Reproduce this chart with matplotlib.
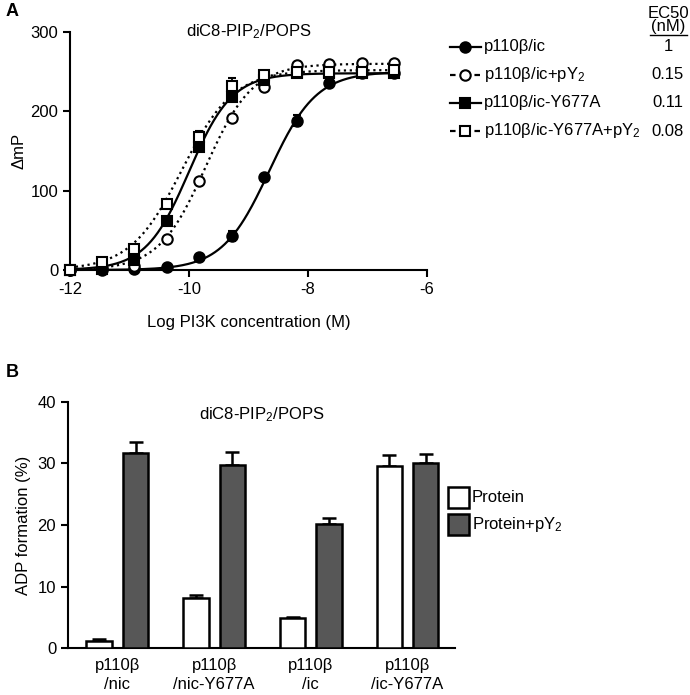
import numpy as np
import matplotlib
matplotlib.use("Agg")
import matplotlib.pyplot as plt
from matplotlib.lines import Line2D
from matplotlib.patches import Rectangle

plt.rcParams['font.family'] = ['Liberation Sans', 'DejaVu Sans']
plt.rcParams['mathtext.fontset'] = 'custom'
plt.rcParams['mathtext.rm'] = 'Liberation Sans'
plt.rcParams['mathtext.it'] = 'Liberation Sans'
plt.rcParams['axes.unicode_minus'] = False

# ---- panel A data: dose response ----
log_conc = [-12.0, -11.46, -10.92, -10.37, -9.83, -9.28, -8.74, -8.19, -7.65, -7.10, -6.56]

ic = [0, 0, 1, 4, 16, 43, 117, 188, 236, 248, 248]
ic_err = [2, 2, 2, 2, 3, 6, 3, 7, 3, 3, 3]
ic_py2 = [0, 2, 5, 39, 112, 191, 231, 258, 260, 261, 261]
ic_py2_err = [2, 2, 2, 3, 3, 3, 3, 3, 3, 3, 3]
y677a = [0, 1, 12, 62, 155, 218, 240, 248, 248, 248, 248]
y677a_err = [2, 2, 2, 3, 4, 3, 3, 3, 3, 3, 3]
y677a_py2 = [0, 10, 27, 83, 168, 232, 246, 250, 250, 250, 252]
y677a_py2_err = [2, 2, 2, 3, 7, 10, 3, 3, 3, 3, 3]

series_labels = ["p110β/ic", "p110β/ic+pY$_2$", "p110β/ic-Y677A", "p110β/ic-Y677A+pY$_2$"]
ec50_labels = ["1", "0.15", "0.11", "0.08"]

# sigmoidal fit parameters (top, log EC50, hill slope)
fit_top = [250, 260, 248, 252]
fit_logec50 = [-8.65, -9.72, -10.0, -10.12]
fit_hill = [1.1, 1.1, 1.2, 1.0]

# ---- panel B data: ADP formation ----
groups = ["p110β\n/nic", "p110β\n/nic-Y677A", "p110β\n/ic", "p110β\n/ic-Y677A"]
protein = [1.2, 8.2, 4.9, 29.6]
protein_err = [0.35, 0.4, 0.2, 1.8]
protein_py2 = [31.7, 29.8, 20.1, 30.1]
protein_py2_err = [1.8, 2.0, 1.1, 1.4]

FS = 12
W, H = 690, 695
fig = plt.figure(figsize=(W / 100, H / 100), dpi=100)


def fx(x):
    return x / W


def fy(y):
    return 1 - y / H


# ================= panel A =================
axA = fig.add_axes([fx(70), fy(270), fx(427 - 70), (270 - 32) / H])
styles = [
    dict(marker='o', mfc='black', ls='-'),
    dict(marker='o', mfc='white', ls=':'),
    dict(marker='s', mfc='black', ls='-'),
    dict(marker='s', mfc='white', ls=':'),
]
data = [ic, ic_py2, y677a, y677a_py2]
errs = [ic_err, ic_py2_err, y677a_err, y677a_py2_err]
xs = np.linspace(log_conc[0], log_conc[-1], 300)
for i in range(4):
    curve = fit_top[i] / (1 + 10 ** (fit_hill[i] * (fit_logec50[i] - xs)))
    axA.plot(xs, curve, color='black', lw=1.6, ls=styles[i]['ls'], clip_on=False, zorder=2)
for i in range(4):
    axA.errorbar(log_conc, data[i], yerr=errs[i], fmt=styles[i]['marker'], ms=7.5,
                 mfc=styles[i]['mfc'], mec='black', mew=1.5, ecolor='black',
                 elinewidth=1.3, capsize=3, capthick=1.3, clip_on=False, zorder=3)

axA.set_xlim(-12, -6)
axA.set_ylim(0, 300)
axA.set_xticks([-12, -10, -8, -6])
axA.set_yticks([0, 100, 200, 300])
for s in ['top', 'right']:
    axA.spines[s].set_visible(False)
for s in ['left', 'bottom']:
    axA.spines[s].set_linewidth(1.5)
axA.tick_params(width=1.5, length=5, labelsize=FS, direction='out')
axA.set_ylabel("ΔmP", fontsize=FS, labelpad=3)
axA.set_xlabel("Log PI3K concentration (M)", fontsize=FS, labelpad=13)
axA.text(0.5, 1.0, "diC8-PIP$_2$/POPS", transform=axA.transAxes, ha='center',
         va='center', fontsize=FS)

# legend A drawn by hand so rows line up with the EC50 column
row_y = [46.7, 74.8, 102.9, 131.0]
for i in range(4):
    yy = fy(row_y[i])
    ls = styles[i]['ls'] if styles[i]['ls'] == '-' else (0, (2.5, 3))
    fig.add_artist(Line2D([fx(450), fx(481)], [yy, yy], color='black', lw=1.6,
                          ls=ls, transform=fig.transFigure))
    fig.add_artist(Line2D([fx(465)], [yy], marker=styles[i]['marker'], ms=7.5,
                          mfc=styles[i]['mfc'], mec='black', mew=1.5,
                          transform=fig.transFigure))
    fig.text(fx(484), yy, series_labels[i], fontsize=FS, va='center', ha='left')
    fig.text(fx(668), yy, ec50_labels[i], fontsize=FS, va='center', ha='center')
fig.text(fx(668), fy(13), "EC50", fontsize=FS, va='center', ha='center')
fig.text(fx(668), fy(27), "(nM)", fontsize=FS, va='center', ha='center')
fig.add_artist(Line2D([fx(650), fx(687)], [fy(35), fy(35)], color='black', lw=1,
                      transform=fig.transFigure))

# ================= panel B =================
axB = fig.add_axes([fx(68), fy(648.3), fx(455 - 68), (648.3 - 401.7) / H])
x = np.arange(len(groups))
bw = 0.262
off = 0.188
axB.bar(x - off, protein, bw, color='white', edgecolor='black', lw=1.8, zorder=3)
axB.bar(x + off, protein_py2, bw, color='#575757', edgecolor='black', lw=1.8, zorder=3)
axB.errorbar(x - off, protein, yerr=[np.zeros(4), protein_err], fmt='none',
             ecolor='black', elinewidth=1.8, capsize=5, capthick=1.8, zorder=2)
axB.errorbar(x + off, protein_py2, yerr=[np.zeros(4), protein_py2_err], fmt='none',
             ecolor='black', elinewidth=1.8, capsize=5, capthick=1.8, zorder=2)
axB.set_xlim(-0.51, 3.49)
axB.set_ylim(0, 40)
axB.set_yticks([0, 10, 20, 30, 40])
axB.set_xticks(x)
axB.set_xticklabels(groups, fontsize=FS, linespacing=1.3)
for s in ['top', 'right']:
    axB.spines[s].set_visible(False)
for s in ['left', 'bottom']:
    axB.spines[s].set_linewidth(1.5)
axB.tick_params(axis='y', width=1.5, length=5, labelsize=FS)
axB.tick_params(axis='x', length=0, pad=7)
axB.set_ylabel("ADP formation (%)", fontsize=FS, labelpad=5)
axB.text(0.5, 0.985, "diC8-PIP$_2$/POPS", transform=axB.transAxes, ha='center',
         va='top', fontsize=FS)

# legend B
leg_rows = [(486.7, 'white', "Protein"), (513.5, '#575757', "Protein+pY$_2$")]
for top, col, lab in leg_rows:
    fig.add_artist(Rectangle((fx(448), fy(top + 21)), fx(21), 21 / H, facecolor=col,
                             edgecolor='black', lw=1.8, transform=fig.transFigure))
    fig.text(fx(472), fy(top + 11), lab, fontsize=FS, va='center', ha='left')

fig.text(fx(6), fy(12), "A", fontsize=13, fontweight='bold', va='center', ha='left')
fig.text(fx(6), fy(372), "B", fontsize=13, fontweight='bold', va='center', ha='left')

fig.savefig("out.png", dpi=100)
